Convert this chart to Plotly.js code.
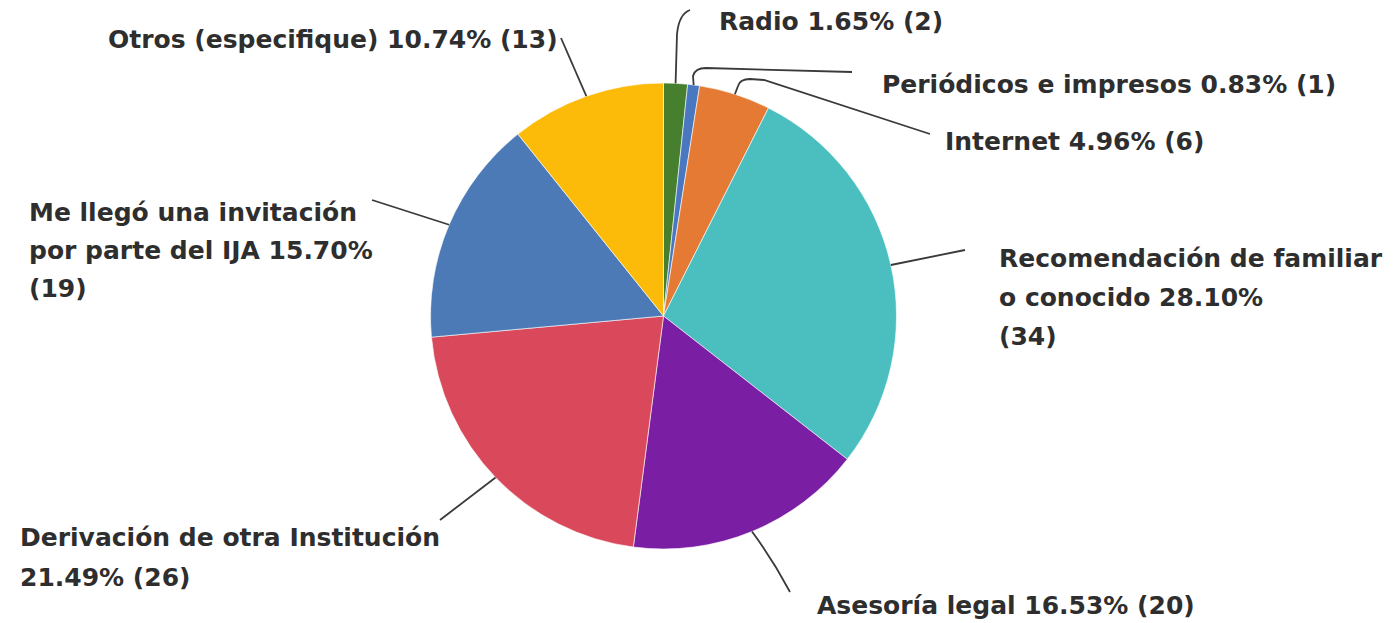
<!DOCTYPE html>
<html>
<head>
<meta charset="utf-8">
<script src="https://cdn.plot.ly/plotly-3.0.1.min.js"></script>
<style>html,body{margin:0;padding:0;background:#fff;}#chart{width:1399px;height:623px;}</style>
</head>
<body>
<div id="chart"></div>
<script>
// ---- data ----
var categories = ["Radio", "Periódicos e impresos", "Internet", "Recomendación de familiar o conocido",
  "Asesoría legal", "Derivación de otra Institución", "Me llegó una invitación por parte del IJA", "Otros (especifique)"];
var counts = [2, 1, 6, 34, 20, 26, 19, 13];
var colors = ["#46802e", "#4a78c0", "#e57a35", "#4bbfbf", "#7a1ea3", "#d9485b", "#4c7ab6", "#fbbb08"];
// label lines as displayed (category text split where the picture wraps it)
var labelLines = [
  ["Radio {p} ({n})"],
  ["Periódicos e impresos {p} ({n})"],
  ["Internet {p} ({n})"],
  ["Recomendación de familiar", "o conocido {p}", "({n})"],
  ["Asesoría legal {p} ({n})"],
  ["Derivación de otra Institución", "{p} ({n})"],
  ["Me llegó una invitación", "por parte del IJA {p}", "({n})"],
  ["Otros (especifique) {p} ({n})"]
];

// ---- layout (pixels) ----
var W = 1399, H = 623;
var cx = 663.5, cy = 316, R = 233;
var labelPos = [ // left x, first line center y, line spacing
  [717, 22, 38], [880, 84, 38], [943, 142, 38], [997, 258, 39],
  [815, 605, 38], [18, 537, 40], [27, 212, 38], [106, 40, 38]
];
// leader line path after the slice point (pixel coords)
var leaderTail = [
  "L677,34 Q679,14 690,10",
  "L693,76 Q695,68 706,68 L852,72",
  "L738,86 Q740,79 750,79 L764,80 L930,134",
  "L965,250",
  "Q773,560 790,592",
  "L440,520",
  "L372,200",
  "L561,38"
];

function px(x){ return x / W; }
function py(y){ return 1 - y / H; }

var total = counts.reduce(function(a,b){return a+b;}, 0);
var annotations = [], shapes = [];
var cum = 0;
for (var i = 0; i < counts.length; i++) {
  var mid = (cum + counts[i] / 2) / total * 2 * Math.PI;
  cum += counts[i];
  var sx = cx + R * Math.sin(mid), sy = cy - R * Math.cos(mid);
  var pct = (counts[i] / total * 100).toFixed(2) + "%";
  var lp = labelPos[i];
  labelLines[i].forEach(function(line, k){
    annotations.push({
      xref: "paper", yref: "paper", x: px(lp[0]), y: py(lp[1] + k * lp[2]),
      xanchor: "left", yanchor: "middle", showarrow: false,
      text: line.replace("{p}", pct).replace("{n}", counts[i]),
      font: {family: "'DejaVu Sans', sans-serif", size: 25, color: "#2e2e2e", weight: 700}
    });
  });
  // convert path to paper coords
  var tail = leaderTail[i].replace(/(-?\d+(\.\d+)?),(-?\d+(\.\d+)?)/g, function(m, a, b, c){
    return px(parseFloat(a)).toFixed(5) + "," + py(parseFloat(c)).toFixed(5);
  });
  shapes.push({
    type: "path", xref: "paper", yref: "paper",
    path: "M" + px(sx).toFixed(5) + "," + py(sy).toFixed(5) + " " + tail,
    line: {color: "#3a3a3a", width: 1.8}
  });
}

var trace = {
  type: "pie",
  labels: categories,
  values: counts,
  sort: false,
  direction: "clockwise",
  rotation: 0,
  textinfo: "none",
  hoverinfo: "label+value+percent",
  marker: {colors: colors, line: {color: "rgba(255,255,255,0.6)", width: 1}},
  domain: {x: [px(cx - R), px(cx + R)], y: [py(cy + R), py(cy - R)]},
  showlegend: false
};

var layout = {
  width: W, height: H,
  margin: {l: 0, r: 0, t: 0, b: 0},
  paper_bgcolor: "#ffffff",
  showlegend: false,
  annotations: annotations,
  shapes: shapes
};

Plotly.newPlot("chart", [trace], layout, {displayModeBar: false, staticPlot: true});
</script>
</body>
</html>
